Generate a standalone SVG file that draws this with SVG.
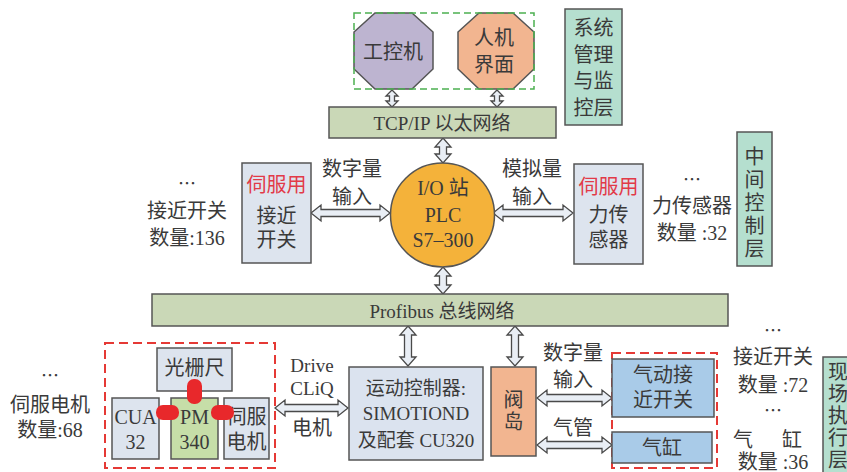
<svg xmlns="http://www.w3.org/2000/svg" width="847" height="472" viewBox="0 0 847 472">
<style>
.t{font-family:"Liberation Serif","Noto Sans CJK SC",serif;font-size:20px;fill:#3a3a3a;text-anchor:middle}
.s{font-size:19px}
.el{font-family:"Noto Sans CJK SC",sans-serif;font-size:18px}
.red{fill:#e23a48}
.box{stroke:#555;stroke-width:1.5}
.arr{fill:#e9eef5;stroke:#4a4a4a;stroke-width:1.3;stroke-linejoin:miter}
.blob{fill:#e8282b}
</style>
<rect width="847" height="472" fill="#ffffff"/>

<g id="connectors">
<polygon class="arr" points="392,90 398,96 394.5,96 394.5,101 398,101 392,107 386,101 389.5,101 389.5,96 386,96"/>
<polygon class="arr" points="497,90 503,96 499.5,96 499.5,101 503,101 497,107 491,101 494.5,101 494.5,96 491,96"/>
<polygon class="arr" points="443,138 451,147 446.5,147 446.5,154 451,154 443,163 435,154 439.5,154 439.5,147 435,147"/>
<polygon class="arr" points="443,267 451,276 446.5,276 446.5,285 451,285 443,294 435,285 439.5,285 439.5,276 435,276"/>
<polygon class="arr" points="311,213 321,205 321,209.5 380,209.5 380,205 390,213 380,221 380,216.5 321,216.5 321,221"/>
<polygon class="arr" points="493,213 503,205 503,209.5 563,209.5 563,205 573,213 563,221 563,216.5 503,216.5 503,221"/>
<polygon class="arr" points="408,326 416,335 411.5,335 411.5,357 416,357 408,366 400,357 404.5,357 404.5,335 400,335"/>
<polygon class="arr" points="515,326 523,335 518.5,335 518.5,357 523,357 515,366 507,357 511.5,357 511.5,335 507,335"/>
<polygon class="arr" points="275,408 285,400 285,404.5 338,404.5 338,400 348,408 338,416 338,411.5 285,411.5 285,416"/>
<polygon class="arr" points="537,398 547,390 547,394.5 602,394.5 602,390 612,398 602,406 602,401.5 547,401.5 547,406"/>
<polygon class="arr" points="537,445 547,437 547,441.5 602,441.5 602,437 612,445 602,453 602,448.5 547,448.5 547,453"/>
</g>

<g id="ipc">
<polygon class="box" fill="#bdb4d0" points="375,13 412,13 433,32 433,69 412,89 375,89 354,69 354,32"/>
<text class="t" x="393" y="59">工控机</text>
</g>
<g id="hmi">
<polygon class="box" fill="#f2b590" points="479,13 513,13 534,32 534,69 513,89 479,89 458,69 458,32"/>
<text class="t" x="494" y="45">人机</text>
<text class="t" x="494" y="72">界面</text>
</g>
<g id="top-group">
<rect x="354" y="13" width="180" height="76" fill="none" stroke="#4cb050" stroke-width="1.5" stroke-dasharray="7 4"/>
</g>

<g id="layer-top">
<rect class="box" x="565" y="9" width="57" height="116" fill="#b5dfcf"/>
<text class="t" x="593.5" y="35">系统</text>
<text class="t" x="593.5" y="61.5">管理</text>
<text class="t" x="593.5" y="88">与监</text>
<text class="t" x="593.5" y="114.5">控层</text>
</g>

<g id="tcpip">
<rect class="box" x="329" y="107" width="227" height="31" fill="#cad8b7"/>
<text class="t s" x="442" y="130">TCP/IP 以太网络</text>
</g>

<g id="plc">
<circle class="box" cx="442.5" cy="215" r="52" fill="#f4b23a"/>
<text class="t" x="443" y="195">I/O 站</text>
<text class="t" x="443" y="222">PLC</text>
<text class="t" x="443" y="247">S7–300</text>
</g>

<g id="labels-mid">
<text class="t" x="352" y="176">数字量</text>
<text class="t" x="352" y="204">输入</text>
<text class="t" x="532" y="176">模拟量</text>
<text class="t" x="532" y="204">输入</text>
</g>

<g id="servo-prox">
<rect class="box" x="242" y="163" width="69" height="100" fill="#dde4ee"/>
<text class="t red" x="276.5" y="192">伺服用</text>
<text class="t" x="276.5" y="223">接近</text>
<text class="t" x="276.5" y="247">开关</text>
</g>
<g id="prox-count">
<text class="t el" x="187" y="190">…</text>
<text class="t" x="187" y="218">接近开关</text>
<text class="t" x="187" y="245">数量:136</text>
</g>

<g id="servo-force">
<rect class="box" x="574" y="164" width="69" height="100" fill="#dde4ee"/>
<text class="t red" x="608.5" y="194">伺服用</text>
<text class="t" x="608.5" y="222">力传</text>
<text class="t" x="608.5" y="247">感器</text>
</g>
<g id="force-count">
<text class="t el" x="692" y="186">…</text>
<text class="t" x="692" y="213">力传感器</text>
<text class="t" x="692" y="240">数量 :32</text>
</g>

<g id="layer-mid">
<rect class="box" x="737" y="132" width="35" height="134" fill="#b5dfcf"/>
<text class="t" x="754.5" y="164">中</text>
<text class="t" x="754.5" y="187">间</text>
<text class="t" x="754.5" y="210">控</text>
<text class="t" x="754.5" y="233">制</text>
<text class="t" x="754.5" y="256">层</text>
</g>

<g id="profibus">
<rect class="box" x="152" y="294" width="576" height="32" fill="#cad8b7"/>
<text class="t s" x="442" y="318">Profibus 总线网络</text>
</g>

<g id="drive-group">
<rect x="105" y="343" width="170" height="125" fill="none" stroke="#e53935" stroke-width="2" stroke-dasharray="9 5"/>
</g>
<g id="grating">
<rect class="box" x="157" y="348" width="75" height="43" fill="#dde4ee"/>
<text class="t" x="194.5" y="375">光栅尺</text>
</g>
<g id="cua">
<rect class="box" x="112" y="398" width="47" height="61" fill="#dde4ee"/>
<text class="t" x="135.5" y="424">CUA</text>
<text class="t" x="135.5" y="449">32</text>
</g>
<g id="pm">
<rect class="box" x="171" y="398" width="47" height="61" fill="#c6dea8"/>
<text class="t" x="194.5" y="424">PM</text>
<text class="t" x="194.5" y="449">340</text>
</g>
<g id="servo-motor">
<rect class="box" x="224" y="398" width="45" height="61" fill="#dde4ee"/>
<text class="t" x="246.5" y="424">伺服</text>
<text class="t" x="246.5" y="449">电机</text>
</g>
<g id="links">
<rect class="blob" x="187" y="379" width="15" height="25" rx="7"/>
<rect class="blob" x="156" y="405" width="23" height="15" rx="7"/>
<rect class="blob" x="211" y="405" width="23" height="15" rx="7"/>
</g>
<g id="motor-count">
<text class="t el" x="50" y="382">…</text>
<text class="t" x="50" y="412">伺服电机</text>
<text class="t" x="50" y="437">数量:68</text>
</g>

<g id="drive-label">
<text class="t s" x="312" y="372">Drive</text>
<text class="t s" x="312" y="395">CLiQ</text>
<text class="t" x="312" y="435">电机</text>
</g>

<g id="motion">
<rect class="box" x="349" y="367" width="134" height="93" fill="#dbe3ef"/>
<text class="t s" x="416" y="395">运动控制器:</text>
<text class="t s" x="416" y="420">SIMOTIOND</text>
<text class="t s" x="416" y="447">及配套 CU320</text>
</g>

<g id="valve">
<rect class="box" x="491" y="367" width="45" height="89" fill="#f2b590"/>
<text class="t" x="513.5" y="407">阀</text>
<text class="t" x="513.5" y="429">岛</text>
</g>
<g id="valve-labels">
<text class="t" x="573" y="360">数字量</text>
<text class="t" x="573" y="387">输入</text>
<text class="t" x="573" y="435">气管</text>
</g>

<g id="pneu-group">
<rect x="612" y="353" width="105" height="115" fill="none" stroke="#e53935" stroke-width="2" stroke-dasharray="9 5"/>
</g>
<g id="pneu-prox">
<rect class="box" x="612" y="359" width="102" height="58" fill="#a9cbe8"/>
<text class="t" x="663" y="382">气动接</text>
<text class="t" x="663" y="407">近开关</text>
</g>
<g id="cylinder">
<rect class="box" x="612" y="432" width="100" height="31" fill="#a9cbe8"/>
<text class="t" x="662" y="455">气缸</text>
</g>
<g id="pneu-count">
<text class="t el" x="773" y="337">…</text>
<text class="t" x="773" y="364">接近开关</text>
<text class="t" x="773" y="392">数量 :72</text>
<text class="t el" x="773" y="417">…</text>
<text class="t" y="447"><tspan x="743">气</tspan><tspan x="792">缸</tspan></text>
<text class="t" x="773" y="469">数量 :36</text>
</g>

<g id="layer-bottom">
<rect class="box" x="823" y="357" width="40" height="125" fill="#b5dfcf"/>
<text class="t" x="838" y="379">现</text>
<text class="t" x="838" y="401">场</text>
<text class="t" x="838" y="423">执</text>
<text class="t" x="838" y="445">行</text>
<text class="t" x="838" y="467">层</text>
</g>
</svg>
